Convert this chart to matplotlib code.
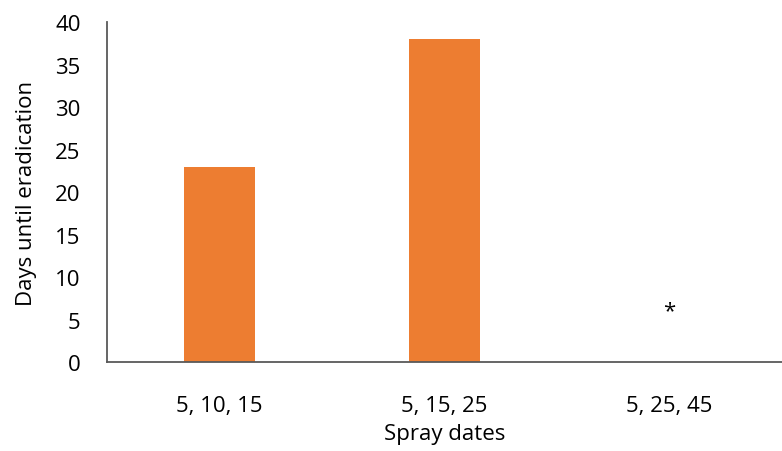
import matplotlib.pyplot as plt

categories = ["5, 10, 15", "5, 15, 25", "5, 25, 45"]
days = [23, 38, 0]
note_text = "*"
note_y = 6.0

plt.rcParams['font.family'] = ['Open Sans', 'DejaVu Sans']

fig = plt.figure(figsize=(7.82, 4.52), dpi=100)
ax = fig.add_axes([0.1368, 0.1969, 0.8632, 0.7522])

x = range(len(categories))
ax.bar(x, days, width=0.315, color='#ED7D31')
ax.text(2, note_y, note_text, ha='center', va='center', fontsize=16, color='black')

ax.set_xlim(-0.5, 2.5)
ax.set_ylim(0, 40)
ax.set_yticks(range(0, 41, 5))
ax.set_xticks(list(x))
ax.set_xticklabels(categories)
ax.tick_params(length=0, labelsize=16, colors='black')
ax.tick_params(axis='x', pad=24)
ax.tick_params(axis='y', pad=19)

for side in ['top', 'right']:
    ax.spines[side].set_visible(False)
for side in ['left', 'bottom']:
    ax.spines[side].set_color('#595959')
    ax.spines[side].set_linewidth(1.3)

ax.set_xlabel('Spray dates', fontsize=16, labelpad=5)
ax.set_ylabel('Days until eradication', fontsize=16, labelpad=13)

fig.savefig('out.png', dpi=100)
